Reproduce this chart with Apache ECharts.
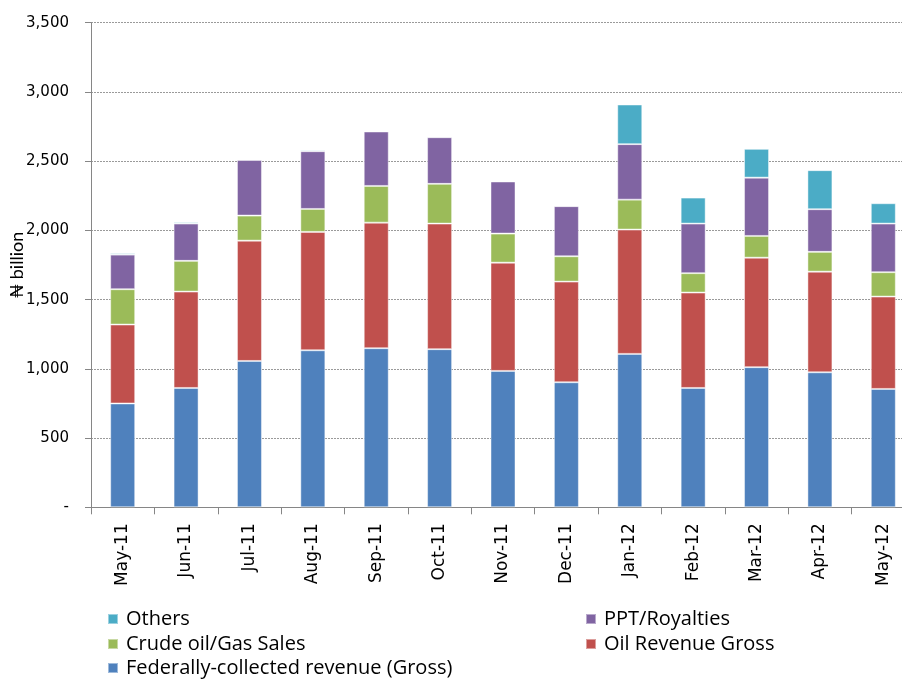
<!DOCTYPE html>
<html>
<head>
<meta charset="utf-8">
<script src="https://cdn.jsdelivr.net/npm/echarts@6/dist/echarts.min.js"></script>
<style>
  html, body { margin: 0; padding: 0; background: #fff; overflow: hidden; }
  #chart { width: 915px; height: 679px; }
</style>
</head>
<body>
<div id="chart"></div>
<script>
// months on the x axis
let months = ["May-11", "Jun-11", "Jul-11", "Aug-11", "Sep-11", "Oct-11", "Nov-11",
  "Dec-11", "Jan-12", "Feb-12", "Mar-12", "Apr-12", "May-12"];

// N billion (bottom to top)
let federal = [750, 862, 1057, 1134, 1149, 1142, 985, 903, 1108, 862, 1012, 975, 855];
let oilGross = [570, 696, 869, 855, 907, 907, 782, 727, 898, 689, 791, 727, 667];
let crudeGas = [255, 222, 181, 166, 265, 287, 210, 183, 216, 140, 157, 143, 176];
let pptRoyalties = [250, 269, 402, 417, 393, 337, 376, 362, 401, 358, 421, 308, 351];
let others = [10, 10, 7, 9, 7, 7, 7, 7, 286, 188, 208, 282, 147];

let yTicks = [0, 500, 1000, 1500, 2000, 2500, 3000, 3500];

let myChart = echarts.init(document.getElementById("chart"));

let stackDefs = [
  { name: "Federally-collected revenue (Gross)", data: federal, color: "#4F81BD" },
  { name: "Oil Revenue Gross", data: oilGross, color: "#C0504D" },
  { name: "Crude oil/Gas Sales", data: crudeGas, color: "#9BBB59" },
  { name: "PPT/Royalties", data: pptRoyalties, color: "#8064A2" },
  { name: "Others", data: others, color: "#4BACC6" },
];

let seriesData = stackDefs.map((s) => {
  return {
    name: s.name,
    type: "bar",
    stack: "total",
    data: s.data,
    barWidth: 25,
    itemStyle: {
      color: s.color,
      borderColor: "rgba(255,255,255,0.45)",
      borderWidth: 1,
    },
  };
});

// legend laid out as in the original: two columns, three rows
let legendSlots = [
  { name: "Others", left: 107, top: 609 },
  { name: "PPT/Royalties", left: 585, top: 609 },
  { name: "Crude oil/Gas Sales", left: 107, top: 634 },
  { name: "Oil Revenue Gross", left: 585, top: 634 },
  { name: "Federally-collected revenue (Gross)", left: 107, top: 658 },
];
let legends = legendSlots.map((l) => {
  return {
    orient: "horizontal",
    left: l.left,
    top: l.top,
    padding: 0,
    itemWidth: 10,
    itemHeight: 10,
    icon: "rect",
    data: [l.name],
    selectedMode: false,
    textStyle: {
      fontFamily: "'Open Sans'",
      fontSize: 20,
      lineHeight: 20,
      padding: [0, 0, 0, 3],
      color: "#000",
    },
  };
});

let option = {
  animation: false,
  backgroundColor: "#fff",
  grid: {
    left: 91,
    right: 0,
    top: 22.7,
    bottom: 171.7,
    containLabel: false,
    outerBoundsMode: "none",
  },
  legend: legends,
  xAxis: {
    type: "category",
    data: months,
    axisLine: { lineStyle: { color: "#868686" } },
    axisTick: {
      show: true,
      alignWithLabel: false,
      length: 7,
      lineStyle: { color: "#868686" },
    },
    axisLabel: {
      rotate: 90,
      margin: 16,
      fontFamily: "'DejaVu Sans'",
      fontSize: 17,
      color: "#000",
      interval: 0,
    },
  },
  yAxis: {
    type: "value",
    min: yTicks[0],
    max: yTicks[yTicks.length - 1],
    interval: 500,
    name: "\u20A6 billion",
    nameLocation: "middle",
    nameRotate: 90,
    nameGap: 65,
    nameMoveOverlap: false,
    nameTextStyle: {
      fontFamily: "Lato, 'DejaVu Sans'",
      fontSize: 18,
      color: "#000",
    },
    axisLine: { show: true, lineStyle: { color: "#868686" } },
    axisTick: { show: true, length: 6, lineStyle: { color: "#868686" } },
    splitLine: {
      show: true,
      lineStyle: { color: "#9a9a9a", type: [2, 1], width: 1 },
    },
    axisLabel: {
      margin: 22,
      fontFamily: "'DejaVu Sans'",
      fontSize: 15,
      color: "#000",
      formatter: (v) => (v === 0 ? "-" : v.toLocaleString("en-US")),
    },
  },
  series: seriesData,
};
myChart.setOption(option);
</script>
</body>
</html>
